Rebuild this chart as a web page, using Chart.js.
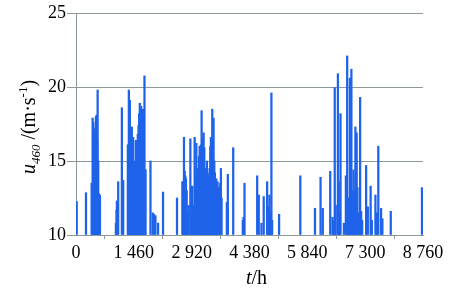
<!DOCTYPE html>
<html>
<head>
<meta charset="utf-8">
<script src="https://cdn.jsdelivr.net/npm/chart.js@4/dist/chart.umd.min.js"></script>
<style>
  html, body { margin: 0; padding: 0; background: #ffffff; }
  #wrap { width: 472px; height: 291px; position: relative; }
  #probe { position: absolute; left: -9999px; top: 0; font-family: 'Liberation Serif'; font-size: 18px; }
  #probe i { font-style: italic; }
</style>
</head>
<body>
<div id="wrap"><canvas id="c" width="472" height="291"></canvas></div>
<div id="probe">0123456789 <i>u t</i></div>
<script>
// ---- data (hour of year, wind speed at 460 m in m/s; values below 10 are off-scale) ----
const hours = [
  18, 252, 395, 420, 438, 453, 471, 486, 503, 521, 536, 546, 561, 574, 591, 604,
  1007, 1024, 1032, 1065, 1158, 1191,
  1309, 1321, 1334, 1347, 1359, 1372, 1384, 1397, 1409, 1427, 1442, 1460, 1477, 1493,
  1510, 1527, 1543, 1560, 1578, 1593, 1611, 1628, 1644, 1661, 1679, 1694, 1711, 1729, 1744, 1754,
  1880, 1938, 1971, 2006, 2072, 2197, 2550,
  2686, 2701, 2726, 2744, 2761, 2776, 2794, 2819, 2844, 2887, 2907, 2937, 2957, 2995, 3013,
  3038, 3058, 3078, 3103, 3121, 3139, 3154, 3171, 3188, 3204, 3222, 3239, 3255, 3272, 3289,
  3305, 3322, 3339, 3355, 3373, 3390, 3406, 3423, 3440, 3456, 3473, 3491, 3507, 3524, 3541,
  3557, 3574, 3591, 3607, 3624, 3642, 3658, 3675,
  3808, 3833, 3969, 4211, 4229, 4254,
  4574, 4614, 4682, 4739, 4825, 4845, 4865, 4883, 4908, 4933, 4951, 5127,
  5663, 6033, 6174, 6230, 6418, 6476, 6494, 6532, 6557, 6612, 6632, 6645, 6678, 6763,
  6813, 6846, 6864, 6884, 6914, 6952, 6972, 7005, 7023, 7053, 7086, 7106, 7123, 7173,
  7199, 7224, 7324, 7367, 7438, 7468, 7559, 7602, 7632, 7702, 7735, 7946, 8734
];
const speeds = [
  12.25, 12.86, 13.5, 17.9, 17.6, 16.8, 16.3, 17.2, 18.0, 18.1, 16.5, 19.8, 15.0, 12.8, 12.7, 12.7,
  10.8, 11.7, 12.3, 13.6, 18.6, 13.7,
  16.1, 15.5, 19.8, 19.0, 19.1, 17.0, 16.2, 15.8, 17.3, 15.5, 16.6, 14.5, 11.9, 15.0,
  16.4, 16.0, 15.9, 16.8, 17.4, 18.2, 18.9, 18.5, 18.7, 18.0, 18.3, 18.5, 17.5, 20.75, 14.4, 14.4,
  15.0, 11.5, 11.4, 11.3, 10.8, 12.9, 12.5,
  13.6, 13.6, 16.6, 14.3, 14.0, 13.8, 13.0, 11.5, 12.0, 16.5, 13.3, 13.3, 12.0, 16.6, 14.0,
  16.2, 12.0, 14.5, 15.3, 16.0, 14.5, 16.1, 18.4, 16.5, 15.2, 16.9, 15.9, 14.5, 12.4, 14.5,
  15.0, 14.2, 13.4, 14.0, 14.5, 16.0, 16.6, 15.0, 18.5, 17.0, 17.9, 15.0, 14.2, 13.6, 13.8,
  13.4, 13.6, 12.7, 13.2, 12.9, 13.5, 14.5, 12.5,
  12.2, 14.1, 15.9, 11.0, 11.2, 13.5,
  14.0, 12.7, 10.8, 12.6, 13.6, 11.5, 11.9, 12.7, 11.5, 19.6, 11.0, 11.4,
  14.0, 11.8, 13.9, 11.8, 14.3, 11.2, 11.0, 19.95, 12.0, 20.9, 13.6, 11.5, 18.2, 10.8,
  14.0, 22.1, 12.5, 11.5, 20.6, 21.2, 13.0, 14.4, 13.0, 17.3, 16.9, 13.2, 11.5, 19.3,
  11.6, 11.0, 14.7, 11.9, 13.3, 11.0, 12.7, 11.5, 16.0, 11.8, 11.1, 11.6, 13.2
];
const xTicks = [0, 1460, 2920, 4380, 5840, 7300, 8760];
const yTicks = [10, 15, 20, 25];

const points = hours.map((h, i) => ({ x: h, y: speeds[i] }));
const fmt = v => String(v).replace(/\B(?=(\d{3})+(?!\d))/g, ' ');
const GRID = '#8e9999';
const FONT = "'Liberation Serif', 'Times New Roman', Times, serif";

const titles = {
  id: 'axisTitles',
  afterDraw(chart) {
    const ctx = chart.ctx;
    const area = chart.chartArea;
    ctx.save();
    ctx.fillStyle = '#000';
    ctx.textBaseline = 'alphabetic';
    // x title: t/h
    const segX = [
      { t: 't', f: 'italic 20px ' + FONT, dy: 0 },
      { t: '/h', f: '20px ' + FONT, dy: 0 }
    ];
    let w = 0;
    segX.forEach(s => { ctx.font = s.f; s.w = ctx.measureText(s.t).width; w += s.w; });
    let x0 = (area.left + area.right) / 2 + 7 - w / 2;
    segX.forEach(s => { ctx.font = s.f; ctx.fillText(s.t, x0, 284 + s.dy); x0 += s.w; });

    // y title: u460 /(m·s-1)
    const segY = [
      { t: 'u', f: 'italic 20px ' + FONT, dy: 0 },
      { t: '460', f: 'italic 13px ' + FONT, dy: 5 },
      { t: ' /(m·s', f: '20px ' + FONT, dy: 0 },
      { t: '-1', f: '13px ' + FONT, dy: -8 },
      { t: ')', f: '20px ' + FONT, dy: 0 }
    ];
    w = 0;
    segY.forEach(s => { ctx.font = s.f; s.w = ctx.measureText(s.t).width; w += s.w; });
    ctx.translate(35, (area.top + area.bottom) / 2 + 3);
    ctx.rotate(-Math.PI / 2);
    let p = -w / 2;
    segY.forEach(s => { ctx.font = s.f; ctx.fillText(s.t, p, s.dy); p += s.w; });
    ctx.restore();
  }
};

function draw() {
  new Chart(document.getElementById('c'), {
    type: 'bar',
    data: {
      datasets: [{
        data: points,
        base: 10,
        backgroundColor: '#1f63ea',
        borderWidth: 0,
        barThickness: 1.6,
        grouped: false
      }]
    },
    options: {
      responsive: false,
      animation: false,
      devicePixelRatio: 1,
      layout: { padding: { left: 0, right: 49, top: 13, bottom: 0 } },
      plugins: { legend: { display: false }, tooltip: { enabled: false }, title: { display: false } },
      scales: {
        x: {
          type: 'linear',
          min: 0, max: 8760,
          offset: false,
          afterBuildTicks: s => { s.ticks = xTicks.map(v => ({ value: v })); },
          afterFit: s => { s.height = 56; },
          grid: { display: true, drawOnChartArea: false, drawTicks: true, tickLength: 4, color: GRID },
          border: { display: true, color: GRID, width: 1 },
          ticks: { font: { family: FONT, size: 18 }, color: '#000', padding: 3, maxRotation: 0, autoSkip: false,
                   callback: v => fmt(v) }
        },
        y: {
          min: 10, max: 25,
          afterBuildTicks: s => { s.ticks = yTicks.map(v => ({ value: v })); },
          afterFit: s => { s.width = 76; },
          grid: { color: GRID, tickLength: 9, lineWidth: 1 },
          border: { display: true, color: GRID, width: 1 },
          ticks: { font: { family: FONT, size: 18 }, color: '#000', padding: 1 }
        }
      }
    },
    plugins: [titles]
  });
}

const loads = document.fonts ? Promise.all([
  document.fonts.load("18px 'Liberation Serif'"),
  document.fonts.load("italic 20px 'Liberation Serif'")
]).catch(() => {}) : Promise.resolve();
loads.then(draw, draw);
</script>
</body>
</html>
